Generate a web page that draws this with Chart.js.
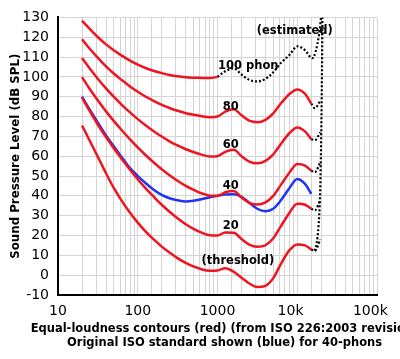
<!DOCTYPE html>
<html>
<head>
<meta charset="utf-8">
<script src="https://cdn.jsdelivr.net/npm/chart.js@4.4.1/dist/chart.umd.min.js"></script>
<style>
  html, body { margin: 0; padding: 0; background: #fff; }
  #wrap { width: 400px; height: 359px; }
</style>
</head>
<body>
<div id="wrap"><canvas id="myChart"></canvas></div>
<script>
// frequencies (Hz) for the red ISO 226:2003 contours
const redFreq = [20, 25, 31.5, 40, 50, 63, 80, 100, 125, 160, 200, 250, 315, 400, 500, 630, 800, 1000,
                 1250, 1600, 2000, 2500, 3150, 4000, 5000, 6300, 8000, 10000, 12500, 15000];
const threshold = [75.5, 67.8, 59.8, 51.4, 44.0, 37.5, 31.5, 26.5, 22.1, 17.9, 14.4, 11.4, 8.6, 6.2, 4.4, 3.0, 2.2, 2.4,
                   3.5, 1.7, -1.3, -4.2, -6.0, -5.4, -1.5, 6.0, 12.6, 15.5, 15.0, 13.0];
const phon20 = [89.6, 82.7, 76.0, 69.6, 64.0, 58.6, 53.2, 48.4, 43.9, 39.4, 35.5, 32.0, 28.7, 25.7, 23.4, 21.5, 20.1, 20.0,
                21.5, 21.4, 18.2, 15.4, 14.3, 15.1, 18.6, 25.0, 31.5, 36.0, 35.5, 33.5];
const phon40 = [99.9, 93.9, 88.2, 82.6, 77.8, 73.1, 68.5, 64.4, 60.6, 56.7, 53.4, 50.4, 47.6, 45.0, 43.1, 41.3, 40.1, 40.0,
                41.8, 42.5, 39.2, 36.5, 35.6, 36.7, 40.0, 45.8, 51.8, 56.1, 55.3, 52.7];
const phon60 = [109.5, 104.2, 99.1, 94.2, 90.0, 85.9, 82.1, 78.7, 75.6, 72.5, 69.9, 67.5, 65.4, 63.5, 62.1, 60.8, 59.9, 60.0,
                62.2, 63.2, 60.0, 57.3, 56.4, 57.6, 60.9, 66.4, 71.7, 74.5, 72.5, 68.6];
const phon80 = [119.0, 114.2, 109.7, 105.3, 101.7, 98.4, 95.2, 92.5, 90.1, 87.8, 85.9, 84.3, 82.9, 81.7, 80.9, 80.2, 79.7, 80.0,
                82.5, 83.7, 80.6, 77.9, 77.1, 78.3, 81.6, 86.8, 91.4, 93.7, 91.5, 86.5];
// 100 phon: solid up to 1 kHz, estimated (dotted) above
const phon100Freq = [20, 25, 31.5, 40, 50, 63, 80, 100, 125, 160, 200, 250, 315, 400, 500, 630, 800, 1000];
const phon100 = [128.4, 124.2, 120.1, 116.4, 113.4, 110.7, 108.2, 106.2, 104.5, 103.0, 101.9, 101.0, 100.3, 99.8, 99.6, 99.5, 99.4, 100.0];
const est100Freq = [1000, 1250, 1600, 2000, 2500, 3150, 4000, 5000, 6300, 8000, 10000, 12500, 15400, 18800, 20000];
const est100 = [100.0, 102.8, 104.3, 101.2, 98.5, 97.7, 99.0, 102.3, 107.2, 111.1, 115.4, 113.5, 109.4, 121.5, 131.0];
// dotted estimated tails of the other contours
const tailFreq = [15000, 16600, 19500];
const tailThreshold = [13.0, 12.3, 18.0];
const tail20 = [33.5, 32.7, 38.0];
const tail40 = [52.7, 51.9, 57.0];
const tail60 = [68.6, 68.1, 72.0];
const tail80 = [86.5, 84.2, 88.0];
// steep dotted upper-frequency limit
const limitFreq = [16600, 17500, 18500, 19300, 19800, 20200, 20500, 20700];
const limitDb = [12.3, 16.0, 25.0, 40.0, 60.0, 85.0, 110.0, 131.0];
// original ISO standard, 40 phon (blue)
const blueFreq = redFreq;
const blue40 = [90.0, 83.5, 77.0, 70.5, 65.0, 59.5, 54.0, 50.0, 46.5, 43.0, 40.5, 38.8, 37.8, 37.2, 37.5, 38.3, 39.3, 40.0,
                40.7, 40.8, 39.5, 36.5, 33.5, 32.3, 33.5, 38.0, 44.0, 48.5, 46.0, 41.0];

const xTicks = [10, 100, 1000, 10000, 100000];
// the k labels sit a little left of their tick in the original
const xTickText = ['10', '100', '1000', '10k   ', '100k   '];

const pts = (fs, vs) => fs.map((f, i) => ({x: f, y: vs[i]}));

const solid = (vals, freqs, color) => ({
    data: pts(freqs, vals),
    borderColor: color,
    borderWidth: 2.5,
    pointRadius: 0,
    cubicInterpolationMode: 'monotone',
    fill: false
});
const dotted = (vals, freqs) => ({
    data: pts(freqs, vals),
    borderColor: '#000',
    borderWidth: 2.2,
    borderDash: [2, 2],
    pointRadius: 0,
    cubicInterpolationMode: 'monotone',
    fill: false
});

const notes = [
    {text: '100 phon', f: 2430, db: 105.4},
    {text: '80', f: 1470, db: 84.8},
    {text: '60', f: 1470, db: 65.8},
    {text: '40', f: 1470, db: 45.0},
    {text: '20', f: 1470, db: 24.6},
    {text: '(threshold)', f: 1800, db: 7.1},
    {text: '(estimated)', f: 9300, db: 123.0}
];
const xTitle = ['Equal-loudness contours (red) (from ISO 226:2003 revision)',
                'Original ISO standard shown (blue) for 40-phons'];

const textPlugin = {
    id: 'texts',
    afterDraw(chart) {
        const {ctx, chartArea, scales} = chart;
        ctx.save();
        ctx.fillStyle = '#000';
        ctx.textAlign = 'center';
        ctx.textBaseline = 'middle';
        ctx.font = 'bold 11.5px "DejaVu Sans"';
        notes.forEach(n => {
            ctx.fillText(n.text, scales.x.getPixelForValue(n.f), scales.y.getPixelForValue(n.db));
        });
        const cx = (chartArea.left + chartArea.right) / 2 + 7;
        xTitle.forEach((line, i) => ctx.fillText(line, cx, chartArea.bottom + 34 + i * 14));
        ctx.restore();
    }
};

Chart.defaults.font.family = '"DejaVu Sans"';
Chart.defaults.color = '#000';

const red = '#f01420';
const config = {
    type: 'line',
    data: {
        datasets: [
            solid(phon100, phon100Freq, red),
            solid(phon80, redFreq, red),
            solid(phon60, redFreq, red),
            solid(phon40, redFreq, red),
            solid(phon20, redFreq, red),
            solid(threshold, redFreq, red),
            solid(blue40, blueFreq, '#2233f0'),
            dotted(est100, est100Freq),
            dotted(tail80, tailFreq),
            dotted(tail60, tailFreq),
            dotted(tail40, tailFreq),
            dotted(tail20, tailFreq),
            dotted(tailThreshold, tailFreq),
            dotted(limitDb, limitFreq)
        ]
    },
    options: {
        responsive: true,
        maintainAspectRatio: false,
        animation: false,
        layout: {padding: {top: 16, right: 23, left: 0, bottom: 0}},
        plugins: {
            legend: {display: false},
            tooltip: {enabled: false}
        },
        scales: {
            x: {
                type: 'logarithmic',
                min: 10,
                max: 100000,
                afterFit(scale) {
                    scale.height = 64;
                    scale.paddingLeft = 0;
                    scale.paddingRight = 0;
                },
                grid: {color: '#d4d4d4', drawTicks: false},
                border: {color: '#000', width: 2},
                ticks: {
                    autoSkip: false,
                    maxRotation: 0,
                    padding: 8,
                    font: {size: 14},
                    callback(v) {
                        const i = xTicks.indexOf(v);
                        return i >= 0 ? xTickText[i] : '';
                    }
                }
            },
            y: {
                min: -10,
                max: 130,
                afterFit(scale) { scale.width = 58; },
                grid: {color: '#d4d4d4', drawTicks: false},
                border: {color: '#000', width: 2},
                ticks: {stepSize: 10, padding: 9, font: {size: 14}},
                title: {
                    display: true,
                    text: 'Sound Pressure Level (dB SPL)',
                    font: {size: 11.8, weight: 'bold'},
                    padding: {top: 9, bottom: 0}
                }
            }
        }
    },
    plugins: [textPlugin]
};

const myChart = new Chart(document.getElementById('myChart'), config);
</script>
</body>
</html>
